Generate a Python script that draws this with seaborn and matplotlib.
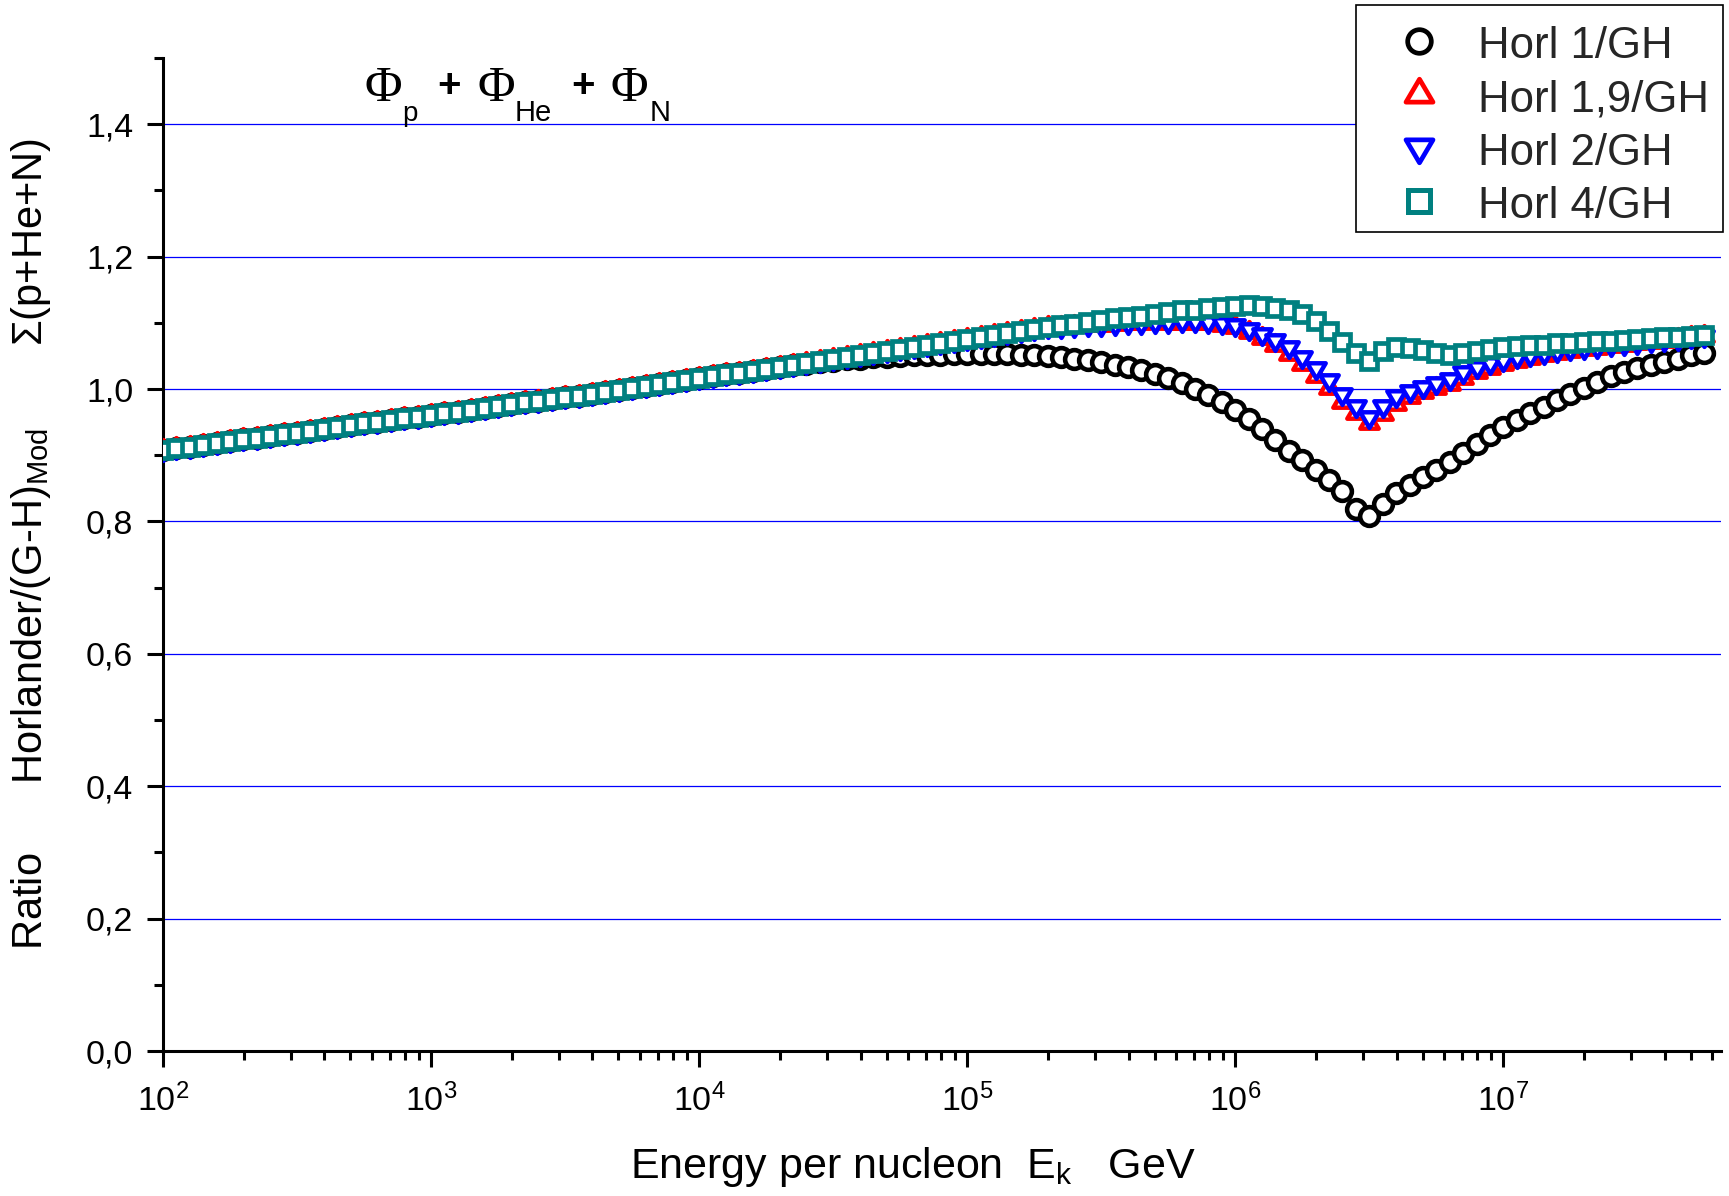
import matplotlib
matplotlib.use("Agg")
import matplotlib.pyplot as plt
from matplotlib.lines import Line2D
from matplotlib.markers import MarkerStyle
from matplotlib.path import Path
from matplotlib.transforms import Affine2D
from matplotlib.ticker import FixedLocator, LogLocator, NullFormatter
import pandas as pd
import seaborn as sns

# ---------------------------------------------------------------- data
# log10 of the kinetic energy per nucleon (GeV), 20 samples per decade
log_energy = [
    2.00, 2.05, 2.10, 2.15, 2.20, 2.25, 2.30, 2.35, 2.40, 2.45,
    2.50, 2.55, 2.60, 2.65, 2.70, 2.75, 2.80, 2.85, 2.90, 2.95,
    3.00, 3.05, 3.10, 3.15, 3.20, 3.25, 3.30, 3.35, 3.40, 3.45,
    3.50, 3.55, 3.60, 3.65, 3.70, 3.75, 3.80, 3.85, 3.90, 3.95,
    4.00, 4.05, 4.10, 4.15, 4.20, 4.25, 4.30, 4.35, 4.40, 4.45,
    4.50, 4.55, 4.60, 4.65, 4.70, 4.75, 4.80, 4.85, 4.90, 4.95,
    5.00, 5.05, 5.10, 5.15, 5.20, 5.25, 5.30, 5.35, 5.40, 5.45,
    5.50, 5.55, 5.60, 5.65, 5.70, 5.75, 5.80, 5.85, 5.90, 5.95,
    6.00, 6.05, 6.10, 6.15, 6.20, 6.25, 6.30, 6.35, 6.40, 6.45,
    6.50, 6.55, 6.60, 6.65, 6.70, 6.75, 6.80, 6.85, 6.90, 6.95,
    7.00, 7.05, 7.10, 7.15, 7.20, 7.25, 7.30, 7.35, 7.40, 7.45,
    7.50, 7.55, 7.60, 7.65, 7.70, 7.75,
]

# ratio shared by all four models below ~2e4 GeV
ratio_low = [
    0.908, 0.911, 0.913, 0.916, 0.918, 0.921, 0.924, 0.926, 0.929, 0.932,
    0.934, 0.937, 0.940, 0.942, 0.945, 0.948, 0.950, 0.953, 0.956, 0.958,
    0.961, 0.964, 0.966, 0.969, 0.972, 0.974, 0.977, 0.980, 0.982, 0.985,
    0.988, 0.990, 0.993, 0.996, 0.999, 1.002, 1.004, 1.007, 1.010, 1.013,
    1.016, 1.019, 1.022, 1.024, 1.027, 1.030, 1.033, 1.036,
]

# continuation shared by the 1,9 / 2 / 4 models up to 2e5 GeV
ratio_mid = [
    1.039, 1.042, 1.045, 1.048, 1.051, 1.054, 1.057, 1.060, 1.063, 1.066,
    1.069, 1.072, 1.075, 1.078, 1.081, 1.085, 1.088, 1.090, 1.093,
]

horl1_tail = [
    1.038, 1.041, 1.043, 1.045, 1.046, 1.048, 1.049, 1.050, 1.051, 1.052,
    1.052, 1.053, 1.053, 1.053, 1.053, 1.053, 1.052, 1.051, 1.050, 1.048,
    1.046, 1.044, 1.041, 1.037, 1.033, 1.028, 1.022, 1.016, 1.009, 1.000,
    0.991, 0.980, 0.968, 0.955, 0.940, 0.923, 0.906, 0.892, 0.877, 0.862,
    0.846, 0.818, 0.808, 0.826, 0.843, 0.855, 0.867, 0.878, 0.890, 0.904,
    0.917, 0.930, 0.943, 0.953, 0.963, 0.973, 0.983, 0.993, 1.002, 1.011,
    1.019, 1.026, 1.031, 1.036, 1.041, 1.046, 1.051, 1.055,
]

horl19_tail = [
    1.094, 1.095, 1.096, 1.097, 1.098, 1.099, 1.100, 1.101, 1.100, 1.100,
    1.100, 1.099, 1.097, 1.093, 1.086, 1.077, 1.066, 1.053, 1.038, 1.020,
    1.001, 0.981, 0.963, 0.948, 0.962, 0.978, 0.988, 0.995, 1.001, 1.008,
    1.017, 1.025, 1.032, 1.038, 1.043, 1.047, 1.051, 1.054, 1.057, 1.060,
    1.062, 1.065, 1.067, 1.069, 1.071, 1.073, 1.076, 1.078, 1.080,
]

horl2_tail = [
    1.094, 1.095, 1.096, 1.097, 1.098, 1.099, 1.100, 1.101, 1.101, 1.102,
    1.102, 1.101, 1.100, 1.097, 1.091, 1.083, 1.074, 1.063, 1.048, 1.031,
    1.013, 0.993, 0.975, 0.958, 0.975, 0.990, 0.997, 1.003, 1.009, 1.015,
    1.026, 1.033, 1.039, 1.044, 1.048, 1.052, 1.055, 1.058, 1.060, 1.062,
    1.064, 1.066, 1.068, 1.070, 1.072, 1.074, 1.076, 1.078, 1.080,
]

horl4_tail = [
    1.096, 1.098, 1.101, 1.104, 1.107, 1.109, 1.111, 1.114, 1.116, 1.119,
    1.120, 1.122, 1.124, 1.125, 1.127, 1.126, 1.123, 1.119, 1.113, 1.103,
    1.088, 1.071, 1.055, 1.042, 1.058, 1.063, 1.062, 1.059, 1.055, 1.052,
    1.055, 1.058, 1.061, 1.063, 1.065, 1.066, 1.067, 1.069, 1.070, 1.071,
    1.072, 1.073, 1.074, 1.076, 1.077, 1.078, 1.079, 1.080, 1.082,
]

series_labels = ["Horl 1/GH", "Horl 1,9/GH", "Horl 2/GH", "Horl 4/GH"]
y_ticks = [0.0, 0.2, 0.4, 0.6, 0.8, 1.0, 1.2, 1.4]
y_minor = [0.1, 0.3, 0.5, 0.7, 0.9, 1.1, 1.3, 1.5]
x_decades = [2, 3, 4, 5, 6, 7]

energy = [10 ** e for e in log_energy]
df = pd.DataFrame({
    "energy": energy,
    series_labels[0]: ratio_low + horl1_tail,
    series_labels[1]: ratio_low + ratio_mid + horl19_tail,
    series_labels[2]: ratio_low + ratio_mid + horl2_tail,
    series_labels[3]: ratio_low + ratio_mid + horl4_tail,
})

# ---------------------------------------------------------------- style
sns.set_style("ticks")
plt.rcParams["font.family"] = ["Liberation Sans", "DejaVu Sans"]
plt.rcParams["mathtext.fontset"] = "custom"
plt.rcParams["mathtext.rm"] = "Liberation Sans"
plt.rcParams["mathtext.it"] = "Liberation Sans:italic"
plt.rcParams["mathtext.bf"] = "Liberation Sans:bold"

W, H = 1729, 1196
fig = plt.figure(figsize=(W / 100, H / 100), dpi=100)
fig.patch.set_facecolor("white")
ax = fig.add_axes([163 / W, 1 - 1051 / H, (1721 - 163) / W, (1051 - 58) / H])
ax.set_facecolor("white")
ax.set_xscale("log")

# closed triangles centred on their centroid
_codes = [Path.MOVETO, Path.LINETO, Path.LINETO, Path.CLOSEPOLY]
tri_up = MarkerStyle(Path([(0, 1.133), (-1, -0.567), (1, -0.567), (0, 1.133)], _codes),
                     joinstyle="miter")
tri_dn = MarkerStyle(Path([(0, -1.133), (-1, 0.567), (1, 0.567), (0, -1.133)], _codes),
                     joinstyle="miter")
square = MarkerStyle("s", joinstyle="miter")

# (label, marker, colour, size, edge width, legend size, legend edge width)
marks = [
    (series_labels[0], "o", "black", 13.5, 3.3, 17.0, 3.4),
    (series_labels[1], tri_up, "#ff0000", 15.0, 3.2, 22.0, 3.4),
    (series_labels[2], tri_dn, "#0000ff", 15.0, 3.2, 22.0, 3.4),
    (series_labels[3], square, "#008080", 11.5, 3.4, 15.5, 3.6),
]

for i, (lab, mk, col, ms, mew, _, _) in enumerate(marks):
    sns.lineplot(data=df, x="energy", y=lab, ax=ax, estimator=None, sort=False,
                 linestyle="", marker=mk, markersize=ms, markeredgewidth=mew,
                 markerfacecolor="white", markeredgecolor=col, color=col,
                 legend=False, zorder=3 + i)

ax.set_xlim(100, 10 ** 7.812)
ax.set_ylim(0, 1.5)

ax.set_xticks([10 ** d for d in x_decades])
ax.set_xticklabels([r"$\mathregular{10^{%d}}$" % d for d in x_decades])
ax.xaxis.set_minor_locator(LogLocator(base=10, subs=(2, 3, 4, 5, 6, 7, 8, 9), numticks=60))
ax.xaxis.set_minor_formatter(NullFormatter())

ax.set_yticks(y_ticks)
ax.set_yticklabels([f"{v:.1f}".replace(".", ",") for v in y_ticks])
ax.yaxis.set_minor_locator(FixedLocator(y_minor))

ax.yaxis.grid(True, which="major", color="#0000ff", linewidth=0.9)
ax.xaxis.grid(False)

for side in ("top", "right"):
    ax.spines[side].set_visible(False)
for side in ("left", "bottom"):
    ax.spines[side].set_linewidth(2.2)
    ax.spines[side].set_color("black")

ax.tick_params(which="major", direction="out", length=11.5, width=2.2,
               color="black", labelsize=24.5, labelcolor="black")
ax.tick_params(which="minor", direction="out", length=6.5, width=2.2, color="black")
ax.tick_params(axis="y", which="major", pad=10)
ax.tick_params(axis="x", which="major", pad=12)
ax.set_xlabel("")
ax.set_ylabel("")

# axis titles
fig.text(630 / W, 1 - 1178 / H, r"Energy per nucleon  E$_\mathregular{k}$   GeV",
         ha="left", va="baseline", fontsize=31, color="black")
fig.text(31 / W, 1 - 544 / H,
         "Ratio      Horlander/(G-H)$_\\mathregular{Mod}$       \u03a3(p+He+N)",
         rotation=90, ha="center", va="center", fontsize=30, color="black")

# flux-sum annotation
pieces = [
    ("\u03a6", 365, 101, 37, "Liberation Serif", "normal"),
    ("p", 402, 121, 20, "Liberation Sans", "normal"),
    ("+", 437, 97, 29, "Liberation Sans", "bold"),
    ("\u03a6", 478, 101, 37, "Liberation Serif", "normal"),
    ("He", 515, 121, 21, "Liberation Sans", "normal"),
    ("+", 571, 97, 29, "Liberation Sans", "bold"),
    ("\u03a6", 610, 101, 37, "Liberation Serif", "normal"),
    ("N", 650, 121, 21, "Liberation Sans", "normal"),
]
for txt, px, py, fs, fam, wt in pieces:
    fig.text(px / W, 1 - py / H, txt, ha="left", va="baseline", fontsize=fs,
             family=[fam, "DejaVu Sans"], weight=wt, color="black")

# legend
handles = [
    Line2D([], [], linestyle="none", marker=mk, markersize=lms,
           markerfacecolor="white", markeredgecolor=col, markeredgewidth=lmew)
    for (_, mk, col, _, _, lms, lmew) in marks
]
leg = fig.legend(handles, series_labels, loc="upper left",
                 bbox_to_anchor=(1356 / W, 1 - 5 / H), bbox_transform=fig.transFigure,
                 frameon=True, fancybox=False, edgecolor="black", framealpha=1,
                 fontsize=31.5, borderpad=0.3, labelspacing=0.28, handlelength=2.3,
                 handletextpad=0.2, borderaxespad=0)
leg.get_frame().set_linewidth(1.2)
# sit rows slightly lower inside the frame
for t in leg.get_texts():
    t.set_y(-8)
for ln in leg.findobj(Line2D):
    ln.set_transform(ln.get_transform() + Affine2D().translate(0, -6))

fig.savefig("out.png", dpi=100, facecolor="white")
